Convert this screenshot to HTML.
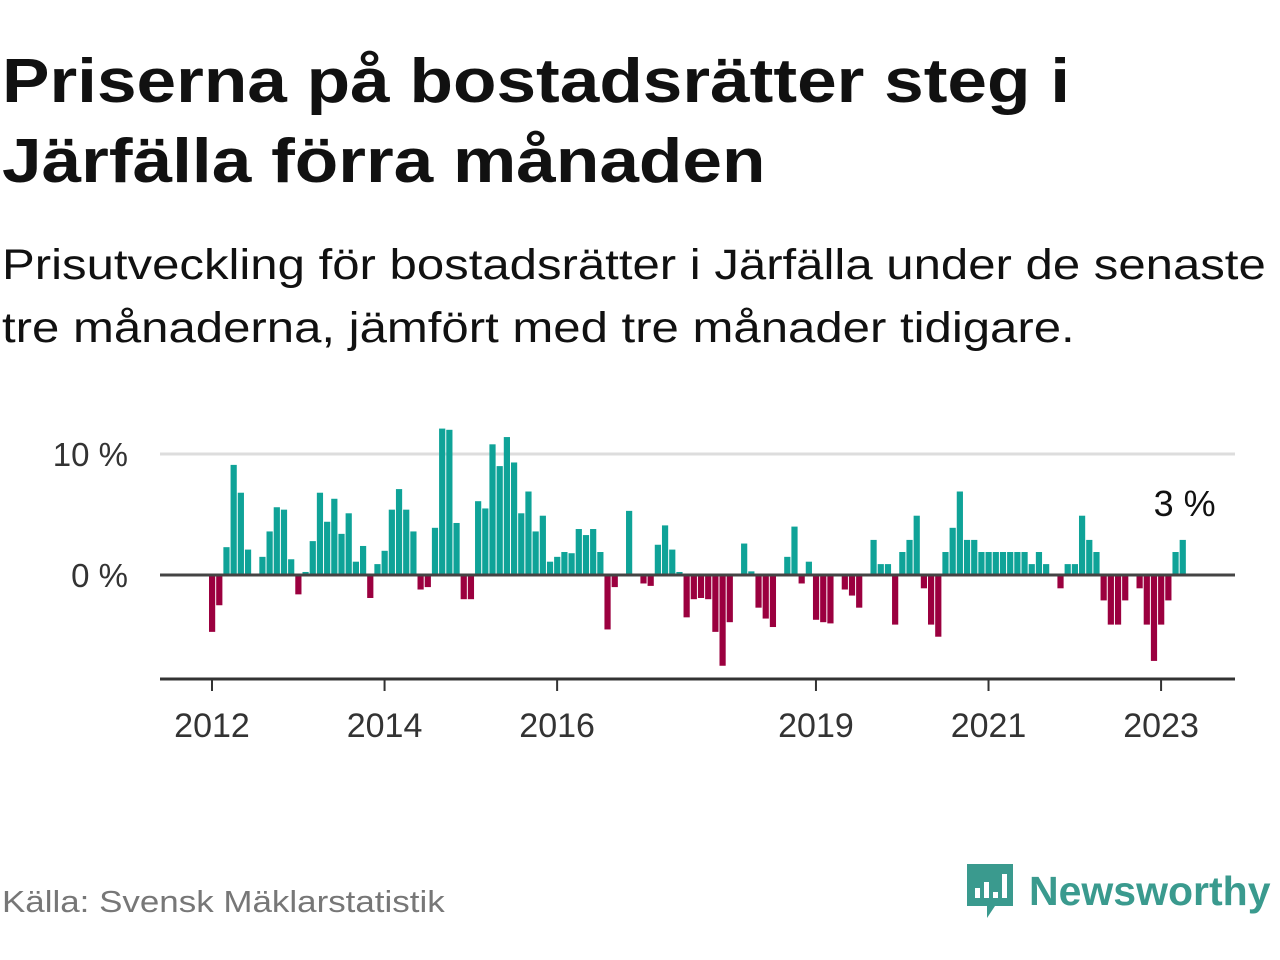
<!DOCTYPE html>
<html><head><meta charset="utf-8">
<style>
body{margin:0;width:1280px;height:960px;background:#fff;font-family:"Liberation Sans",sans-serif;position:relative;overflow:hidden}
.t{position:absolute;left:2px;top:42px;font-size:62px;font-weight:bold;color:#111;line-height:80px;margin:0;transform:scaleX(1.148);transform-origin:0 0;white-space:nowrap}
.s{position:absolute;left:2px;top:234px;font-size:43px;color:#111;line-height:63px;margin:0;transform:scaleX(1.142);transform-origin:0 0;white-space:nowrap}
.src{position:absolute;left:2px;top:884px;font-size:31px;color:#777;transform:scaleX(1.127);transform-origin:0 0;white-space:nowrap}
.logo{position:absolute;left:965px;top:862px;display:flex;align-items:center;gap:14px;color:#3a9a8e;font-weight:bold;font-size:41px}
</style></head><body>
<h1 class="t">Priserna på bostadsrätter steg i<br>Järfälla förra månaden</h1>
<p class="s">Prisutveckling för bostadsrätter i Järfälla under de senaste<br>tre månaderna, jämfört med tre månader tidigare.</p>
<svg id="chart" width="1280" height="960" style="position:absolute;left:0;top:0"></svg>
<div class="src">Källa: Svensk Mäklarstatistik</div>
<div class="logo">
<svg width="50" height="58" viewBox="0 0 50 58"><path d="M2 2h46v42H30l-8 12v-12H2z" fill="#3a9a8e"/><rect x="10" y="26" width="5" height="10" fill="#fff"/><rect x="19" y="20" width="5" height="16" fill="#fff"/><rect x="28" y="30" width="5" height="6" fill="#fff"/><rect x="37" y="12" width="5" height="24" fill="#fff"/></svg>
<span>Newsworthy</span></div>
<script>
const values=[-4.7,-2.5,2.3,9.1,6.8,2.1,0,1.5,3.6,5.6,5.4,1.3,-1.6,0.25,2.8,6.8,4.4,6.3,3.4,5.1,1.1,2.4,-1.9,0.9,2.0,5.4,7.1,5.4,3.6,-1.2,-1.0,3.9,12.1,12.0,4.3,-2.0,-2.0,
6.1,5.5,10.8,9.0,11.4,9.3,5.1,6.9,3.6,4.9,1.1,1.5,1.9,1.8,3.8,3.3,3.8,1.9,-4.5,-1.0,0,5.3,0,-0.7,-0.9,2.5,4.1,2.1,0.25,-3.5,-2.0,-1.9,-2.0,-4.7,-7.5,-3.9,
0,2.6,0.3,-2.7,-3.6,-4.3,0,1.5,4.0,-0.7,1.1,-3.7,-3.9,-4.0,0,-1.2,-1.7,-2.7,0,2.9,0.9,0.9,-4.1,1.9,2.9,4.9,-1.1,-4.1,-5.1,1.9,3.9,6.9,2.9,2.9,
1.9,1.9,1.9,1.9,1.9,1.9,1.9,0.9,1.9,0.9,0,-1.1,0.9,0.9,4.9,2.9,1.9,-2.1,-4.1,-4.1,-2.1,0,-1.1,-4.1,-7.1,-4.1,-2.1,1.9,2.9];
const startYear=2012;
const yTicks=[0,10];
const yTickLabels=["0 %","10 %"];
const xTickYears=[2012,2014,2016,2019,2021,2023];
const lastLabel="3 %";
const NS="http://www.w3.org/2000/svg";
const svg=document.getElementById('chart');
const x0=212,pxMonth=7.19,y0=575,pxPct=12.1;
const xs=m=>x0+m*pxMonth;
const ys=v=>y0-v*pxPct;
function mk(tag,attrs){const e=document.createElementNS(NS,tag);for(const k in attrs)e.setAttribute(k,attrs[k]);svg.appendChild(e);return e;}
yTicks.forEach((t,i)=>{
 if(t!==0){const g=mk('line',{x1:160,x2:1235,y1:ys(t),y2:ys(t),stroke:'#ddd','stroke-width':3});
 
 }
 const l=mk('text',{x:128,y:ys(t)+12,'text-anchor':'end','font-size':33,fill:'#333','font-family':'Liberation Sans, sans-serif'});
 l.textContent=yTickLabels[i];
 
 
});
values.forEach((v,i)=>{
 if(v===0)return;
 const r=mk('rect',{x:xs(i)-3,y:Math.min(ys(v),y0),width:6.2,height:Math.abs(v)*pxPct,fill:v>0?'#0fa398':'#9b003f'});
 
 
});
const zl=mk('line',{x1:160,x2:1235,y1:y0,y2:y0,stroke:'#444','stroke-width':3});


const ax=mk('line',{x1:160,x2:1235,y1:679,y2:679,stroke:'#333','stroke-width':3});


xTickYears.forEach(y=>{
 const x=xs((y-startYear)*12);
 const tk=mk('line',{x1:x,x2:x,y1:679,y2:691,stroke:'#333','stroke-width':2});
 
 
 const t=mk('text',{x:x,y:737,'text-anchor':'middle','font-size':34,fill:'#333','font-family':'Liberation Sans, sans-serif'});
 t.textContent=y;
 
 
});
const ll=mk('text',{x:xs(values.length-1)+2,y:516,'text-anchor':'middle','font-size':36,fill:'#111','font-family':'Liberation Sans, sans-serif'});
ll.textContent=lastLabel;


</script>
</body></html>
